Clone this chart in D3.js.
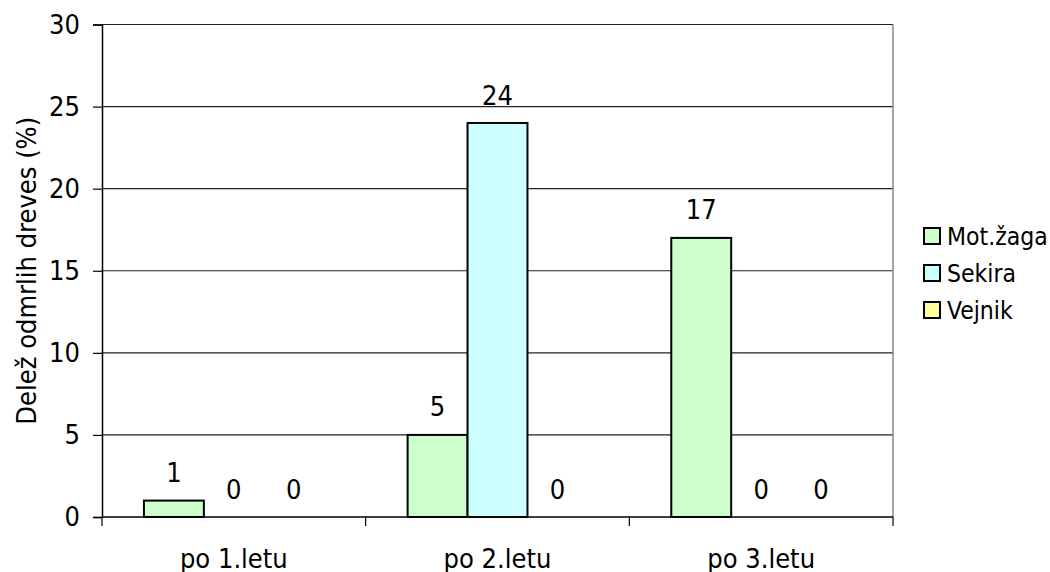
<!DOCTYPE html>
<html><head><meta charset="utf-8">
<script src="https://cdn.jsdelivr.net/npm/d3@7"></script>
<style>
body{margin:0;background:#fff;}
text{font-family:"DejaVu Sans Condensed","DejaVu Sans",sans-serif;font-stretch:condensed;fill:#000;}
</style></head><body>
<svg id="c" width="1050" height="572"></svg>
<script>
const categories = ["po 1.letu", "po 2.letu", "po 3.letu"];
const seriesNames = ["Mot.žaga", "Sekira", "Vejnik"];
const motZaga = [1, 5, 17];
const sekira = [0, 24, 0];
const vejnik = [0, 0, 0];
const yTicks = [0, 5, 10, 15, 20, 25, 30];
const colors = ["#CCFFCC", "#CCFFFF", "#FFFF99"];
const yTitle = "Delež odmrlih dreves (%)";

const seriesVals = [motZaga, sekira, vejnik];
const svg = d3.select("#c");
const L = 102, R = 893, T = 24.5, B = 517;
const FS = 27;

const x0 = d3.scaleBand().domain(categories).range([L, R]).paddingInner(0).paddingOuter(0);
const x1 = d3.scaleBand().domain(seriesNames).range([0, x0.bandwidth()]).paddingInner(0).paddingOuter(0.7);
const y = d3.scaleLinear().domain([0, 30]).range([B, T]);

// gridlines
svg.append("g").selectAll("line").data(yTicks.filter(d => d > 0)).join("line")
  .attr("x1", L).attr("x2", R).attr("y1", d => y(d)).attr("y2", d => y(d))
  .attr("stroke", "#222").attr("stroke-width", 1.2);
// right border
svg.append("line").attr("x1", R).attr("x2", R).attr("y1", T).attr("y2", B)
  .attr("stroke", "#888").attr("stroke-width", 1.5);

// bars
const groups = svg.append("g").selectAll("g").data(categories).join("g")
  .attr("transform", d => `translate(${x0(d)},0)`);
groups.each(function(cat, ci) {
  const g = d3.select(this);
  seriesNames.forEach((s, si) => {
    const v = seriesVals[si][ci];
    if (v > 0) {
      g.append("rect").attr("x", x1(s)).attr("width", x1.bandwidth())
        .attr("y", y(v)).attr("height", y(0) - y(v))
        .attr("fill", colors[si]).attr("stroke", "#000").attr("stroke-width", 2);
    }
    g.append("text").attr("x", x1(s) + x1.bandwidth() / 2).attr("y", y(v) - 28)
      .attr("text-anchor", "middle").attr("dominant-baseline", "central")
      .style("font-size", FS + "px").text(v);
  });
});

// y axis
const yAxis = d3.axisLeft(y).tickValues(yTicks).tickSize(9).tickPadding(13);
const ya = svg.append("g").attr("transform", `translate(${L},0)`).call(yAxis);
ya.select(".domain").attr("stroke", "#000").attr("stroke-width", 1.5);
ya.selectAll(".tick line").attr("stroke", "#000").attr("stroke-width", 1.2);
ya.selectAll(".tick text").style("font-size", FS + "px").attr("fill", "#000");

// x axis
const xa = svg.append("g").attr("transform", `translate(0,${B})`);
xa.append("line").attr("x1", L).attr("x2", R).attr("y1", 0).attr("y2", 0)
  .attr("stroke", "#000").attr("stroke-width", 1.5);
const xTickPos = categories.map(c => x0(c)).concat([x0(categories[categories.length - 1]) + x0.bandwidth()]);
xa.selectAll("line.t").data(xTickPos).join("line").attr("class", "t")
  .attr("x1", d => d).attr("x2", d => d).attr("y1", 0).attr("y2", 9)
  .attr("stroke", "#000").attr("stroke-width", 1.2);
xa.selectAll("text").data(categories).join("text")
  .attr("x", d => x0(d) + x0.bandwidth() / 2).attr("y", 41)
  .attr("text-anchor", "middle").attr("dominant-baseline", "central")
  .style("font-size", FS + "px").text(d => d);

// y title
svg.append("text").attr("transform", `translate(26,${(T + B) / 2}) rotate(-90)`)
  .attr("text-anchor", "middle").attr("dominant-baseline", "central")
  .style("font-size", FS + "px").text(yTitle);

// legend
const lg = svg.append("g").attr("transform", "translate(924,236)");
const items = lg.selectAll("g").data(seriesNames).join("g")
  .attr("transform", (d, i) => `translate(0,${i * 37})`);
items.append("rect").attr("x", 0).attr("y", -8).attr("width", 16).attr("height", 16)
  .attr("fill", (d, i) => colors[i]).attr("stroke", "#000").attr("stroke-width", 2);
items.append("text").attr("x", 23).attr("y", 0).attr("dominant-baseline", "central")
  .style("font-size", "24.5px").text(d => d);
</script>
</body></html>
